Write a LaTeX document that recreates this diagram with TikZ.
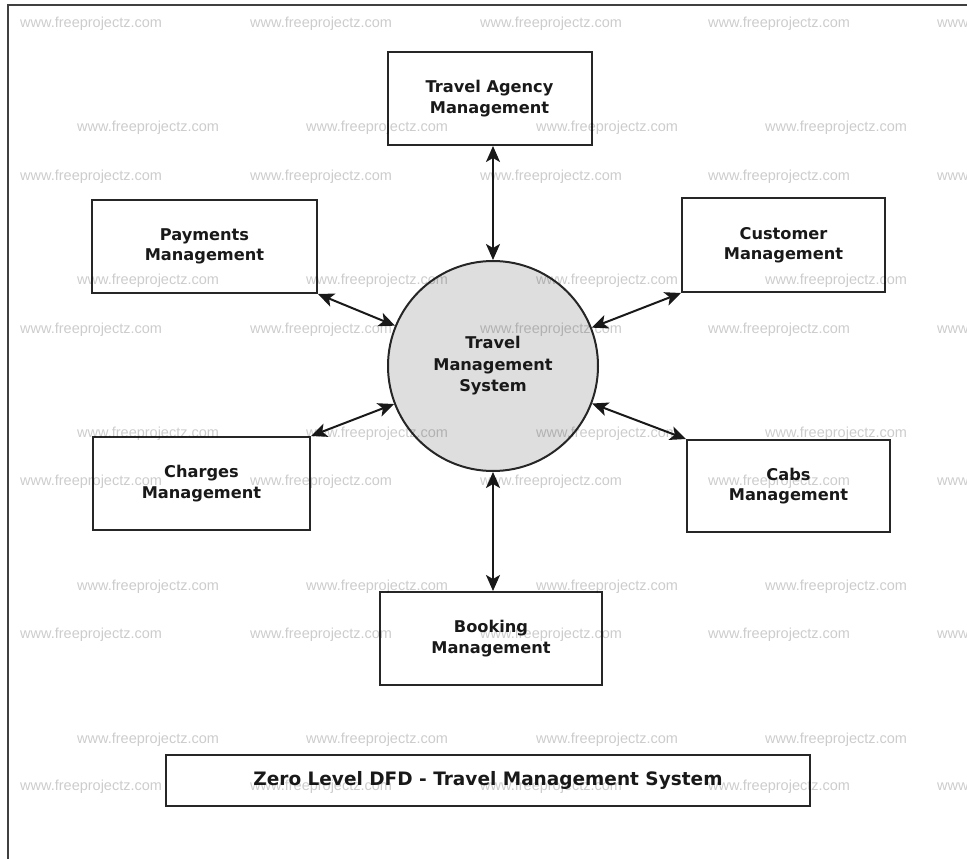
\documentclass[tikz,border=0pt]{standalone}
\usepackage{fontspec}
\setmainfont{DejaVu Sans}
\newfontfamily\markfont{Liberation Sans}
\usetikzlibrary{arrows.meta}

\tikzset{
  entity/.style={draw=black!85, line width=2pt, inner sep=0pt, align=center,
    font=\fontsize{16.2}{20.5}\selectfont\bfseries, text=black!90},
  caption/.style={entity, font=\fontsize{18.5}{22}\selectfont\bfseries},
  process/.style={circle, draw=black!85, line width=2pt, fill=black!13,
    minimum size=210pt, inner sep=0pt, align=center,
    font=\fontsize{16.2}{21.5}\selectfont\bfseries, text=black!90},
  flow/.style={line width=2pt, draw=black!90,
    {Stealth[length=16pt,width=14pt,inset=4pt]}-{Stealth[length=16pt,width=14pt,inset=4pt]}},
  frameline/.style={line width=2.5pt, draw=black!75},
  watermark/.style={anchor=west, inner sep=0pt, text=black, text opacity=0.2,
    font=\markfont\fontsize{14.5}{16}\selectfont},
}

\begin{document}
\begin{tikzpicture}[x=1pt, y=-1pt]
\useasboundingbox (0,0) rectangle (967,859);

% page frame (left and top edges)
\draw[frameline] (8,859) -- (8,5) -- (967,5);

% central process
\node[process] (sys) at (493,366) {Travel\\Management\\System};

% external entities
\node[entity, minimum width=204pt, minimum height=93pt] (ta)   at (489.5,98.5) {Travel Agency\\Management};
\node[entity, minimum width=225pt, minimum height=93pt] (pay)  at (204.5,246.5) {Payments\\Management};
\node[entity, minimum width=203pt, minimum height=94pt] (cust) at (783.5,245) {Customer\\Management};
\node[entity, minimum width=217pt, minimum height=93pt] (chg)  at (201.5,483.5) {Charges\\Management};
\node[entity, minimum width=203pt, minimum height=92pt] (cab)  at (788.5,486) {Cabs\\Management};
\node[entity, minimum width=222pt, minimum height=93pt] (bk)   at (491,638.5) {Booking\\Management};

% caption box
\node[caption, minimum width=644pt, minimum height=51pt] (title) at (488,780.5)
  {Zero Level DFD - Travel Management System};

% data flows
\draw[flow] (sys.north) -- (sys.north |- ta.south);
\draw[flow] (pay.south east) -- (sys);
\draw[flow] (cust.south west) -- (sys);
\draw[flow] (chg.north east) -- (sys);
\draw[flow] (cab.north west) -- (sys);
\draw[flow] (sys.south) -- (sys.south |- bk.north);

% site watermark grid
\foreach \y [count=\r] in {24,177,330,482,635,787}
  \foreach \x [count=\c] in {20,250,480,708,937}
    \node[watermark] (wa-\r-\c) at (\x,\y) {www.freeprojectz.com};
\foreach \y [count=\r] in {128,281,434,587,740}
  \foreach \x [count=\c] in {77,306,536,765}
    \node[watermark] (wb-\r-\c) at (\x,\y) {www.freeprojectz.com};
\end{tikzpicture}
\end{document}
